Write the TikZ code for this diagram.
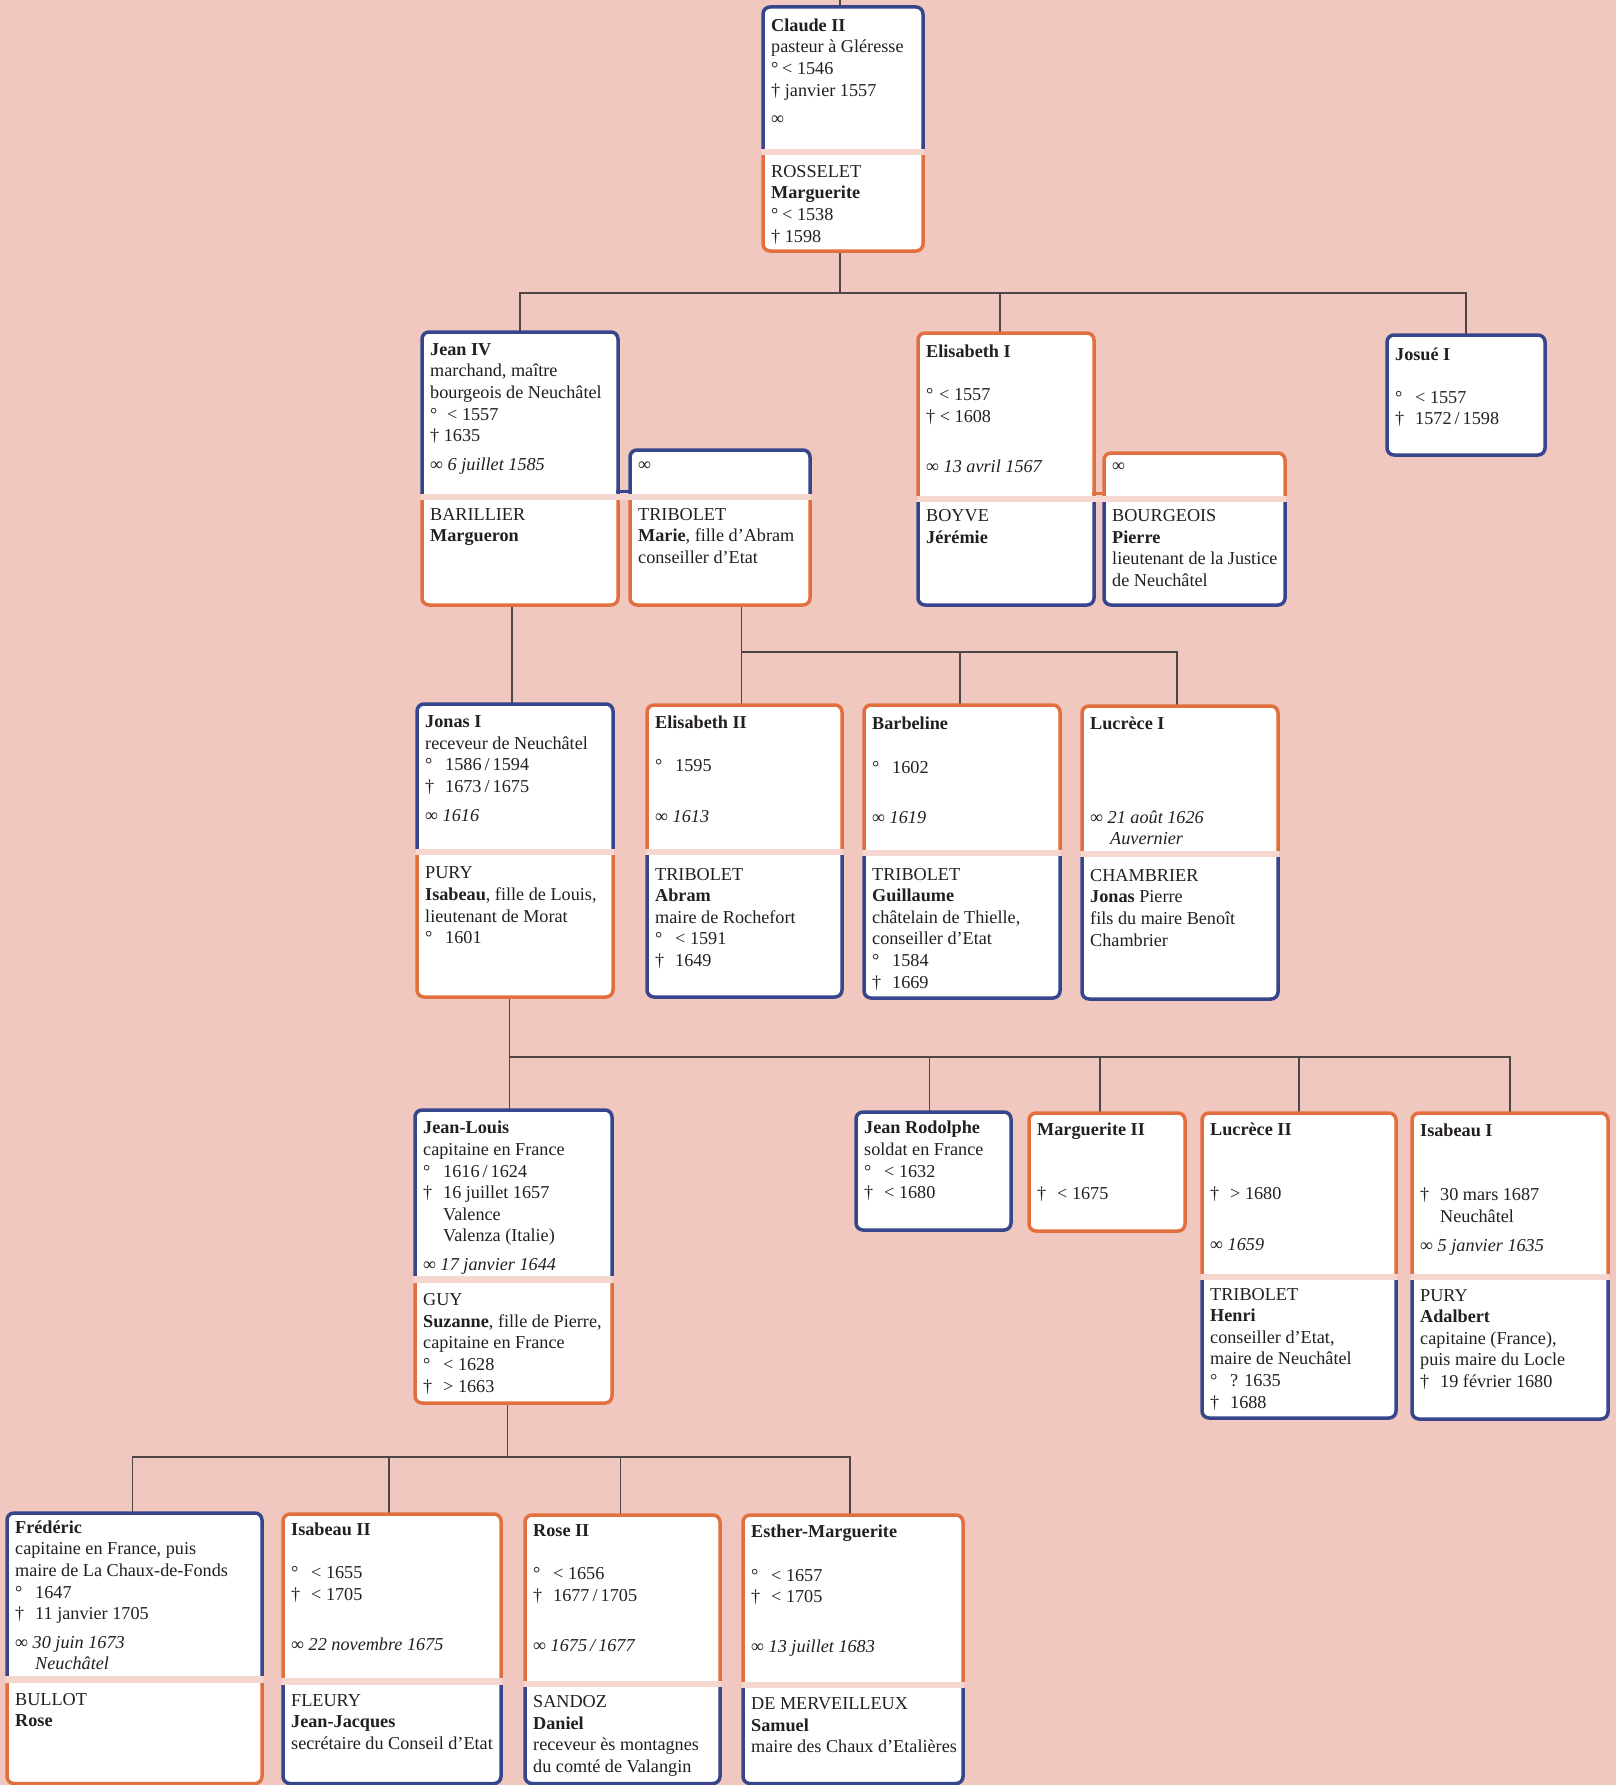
\documentclass[tikz,border=0pt]{standalone}
\usepackage{fontspec}
\setmainfont{Liberation Serif}

\definecolor{bg}{RGB}{240,200,191}
\definecolor{seamc}{RGB}{245,215,207}
\definecolor{mblue}{RGB}{55,70,140}
\definecolor{forange}{RGB}{226,112,62}
\definecolor{wirec}{RGB}{78,70,70}
\definecolor{ink}{RGB}{35,30,32}

\tikzset{
  frame/.style={line width=3.5pt, rounded corners=7pt, fill=white},
  wire/.style={draw=wirec, line width=1.5pt},
  txt/.style={anchor=north west, inner sep=0pt, align=left, text=ink,
              font=\fontsize{18.2}{21.6}\selectfont},
  slotbox/.style={anchor=north west, inner sep=0pt, outer sep=0pt},
}

% half boxes: the husband/wife halves are open towards each other
\newcommand\upperhalf[5]{% left, right, top, split, colour
  \begin{scope}
    \clip (#1-6,#3-6) rectangle (#2+6,#4);
    \draw[frame, draw=#5] (#1,#3) rectangle (#2,#4+24);
  \end{scope}}
\newcommand\lowerhalf[5]{% left, right, top, bottom, colour
  \begin{scope}
    \clip (#1-6,#3) rectangle (#2+6,#4+6);
    \draw[frame, draw=#5] (#1,#3-24) rectangle (#2,#4);
  \end{scope}}
\newcommand\fullbox[5]{\draw[frame, draw=#5] (#1,#3) rectangle (#2,#4);}
\newcommand\seam[4]{\fill[seamc] (#1-1,#3) rectangle (#2+1,#4);}% left, right, split, lower top
\newcommand\personslot[5]{% name, left, right, top, bottom
  \node[slotbox, minimum width={(#3)-(#2)}, minimum height={(#5)-(#4)}] (#1) at (#2,#4) {};}
\newcommand\firststrut{\rule{0pt}{14pt}}
\newcommand\boxtext[4]{% name, left, first baseline, lines
  \node[txt] (#1) at (#2+8,#3-14) {\firststrut #4};}
\newcommand\tb[1]{\makebox[20pt][l]{#1}}

\begin{document}
\begin{tikzpicture}[x=1pt, y=-1pt]
\useasboundingbox (0,0) rectangle (1616,1785);
\fill[bg] (0,0) rectangle (1616,1785);

% ---------- person slots ----------
\personslot{claude}{763}{923}{7}{251}
\personslot{jeaniv}{422}{618}{332}{605}
\personslot{marie}{630}{810}{450}{605}
\personslot{elisabethi}{918}{1094}{333}{605}
\personslot{pierre}{1104}{1285}{453}{605}
\personslot{josue}{1387}{1545}{335}{455}
\personslot{jonas}{417}{613}{704}{997}
\personslot{elisabethii}{647}{842}{705}{997}
\personslot{barbeline}{864}{1060}{705}{998}
\personslot{lucrecei}{1082}{1278}{706}{999}
\personslot{jeanlouis}{415}{612}{1110}{1403}
\personslot{jeanrodolphe}{856}{1011}{1112}{1230}
\personslot{margueriteii}{1029}{1185}{1113}{1231}
\personslot{lucreceii}{1202}{1396}{1113}{1418}
\personslot{isabeaui}{1412}{1608}{1113}{1419}
\personslot{frederic}{7}{262}{1513}{1783.5}
\personslot{isabeauii}{283}{501}{1514}{1783.5}
\personslot{roseii}{525}{720}{1515}{1783.5}
\personslot{esther}{743}{963}{1515}{1783.5}

% ---------- connectors ----------
\coordinate (lineage) at (840,0);
\coordinate (bus1) at (0,293);
\coordinate (bus3) at (0,652);
\coordinate (bus4) at (0,1057);
\coordinate (bus5) at (0,1457);

\draw[wire] (lineage) -- (lineage |- claude.north);
\draw[wire] ([xshift=-3pt]claude.south) -- ([xshift=-3pt]claude.south |- bus1);
\draw[wire] (jeaniv.north) -- (jeaniv.north |- bus1) -| (josue.north);
\draw[wire] ([xshift=-6pt]elisabethi.north) -- ([xshift=-6pt]elisabethi.north |- bus1);

\draw[wire] ([xshift=-3pt]jonas.north |- jeaniv.south) -- ([xshift=-3pt]jonas.north);
\draw[wire] ([xshift=-3pt]elisabethii.north |- marie.south) -- ([xshift=-3pt]elisabethii.north);
\draw[wire] ([xshift=-3pt]elisabethii.north |- bus3) -| ([xshift=-3pt]lucrecei.north);
\draw[wire] ([xshift=-2pt]barbeline.north) -- ([xshift=-2pt]barbeline.north |- bus3);

\draw[wire] ([xshift=-4pt]jeanlouis.north |- jonas.south) -- ([xshift=-4pt]jeanlouis.north);
\draw[wire] ([xshift=-4pt]jeanlouis.north |- bus4) -| (isabeaui.north);
\draw[wire] ([xshift=-4pt]jeanrodolphe.north) -- ([xshift=-4pt]jeanrodolphe.north |- bus4);
\draw[wire] ([xshift=-7pt]margueriteii.north) -- ([xshift=-7pt]margueriteii.north |- bus4);
\draw[wire] (lucreceii.north) -- (lucreceii.north |- bus4);

\draw[wire] ([xshift=-6pt]jeanlouis.south) -- ([xshift=-6pt]jeanlouis.south |- bus5);
\draw[wire] ([xshift=-2pt]frederic.north) -- ([xshift=-2pt]frederic.north |- bus5) -| ([xshift=-3pt]esther.north);
\draw[wire] ([xshift=-3pt]isabeauii.north) -- ([xshift=-3pt]isabeauii.north |- bus5);
\draw[wire] ([xshift=-2pt]roseii.north) -- ([xshift=-2pt]roseii.north |- bus5);

% ---------- boxes ----------
% Claude II
\seam{763}{923}{148}{155}
\upperhalf{763}{923}{7}{148}{mblue}
\lowerhalf{763}{923}{155}{251}{forange}

% Jean IV with his two wives
\seam{422}{810}{493}{500}
\upperhalf{422}{618}{332}{493}{mblue}
\upperhalf{630}{810}{450}{493}{mblue}
\draw[mblue, line width=3.5pt] (616,491.25) -- (632,491.25);
\lowerhalf{422}{618}{500}{605}{forange}
\lowerhalf{630}{810}{500}{605}{forange}

% Elisabeth I with her two husbands
\seam{918}{1285}{495}{502}
\upperhalf{918}{1094}{333}{495}{forange}
\upperhalf{1104}{1285}{453}{495}{forange}
\draw[forange, line width=3.5pt] (1092,493.25) -- (1106,493.25);
\lowerhalf{918}{1094}{502}{605}{mblue}
\lowerhalf{1104}{1285}{502}{605}{mblue}

% Josué I
\fullbox{1387}{1545}{335}{455}{mblue}

% third generation
\seam{417}{613}{848}{855}
\upperhalf{417}{613}{704}{848}{mblue}
\lowerhalf{417}{613}{855}{997}{forange}
\seam{647}{842}{848}{855}
\upperhalf{647}{842}{705}{848}{forange}
\lowerhalf{647}{842}{855}{997}{mblue}
\seam{864}{1060}{849}{856}
\upperhalf{864}{1060}{705}{849}{forange}
\lowerhalf{864}{1060}{856}{998}{mblue}
\seam{1082}{1278}{850}{857}
\upperhalf{1082}{1278}{706}{850}{forange}
\lowerhalf{1082}{1278}{857}{999}{mblue}

% fourth generation
\seam{415}{612}{1275}{1283}
\upperhalf{415}{612}{1110}{1275}{mblue}
\lowerhalf{415}{612}{1283}{1403}{forange}
\fullbox{856}{1011}{1112}{1230}{mblue}
\fullbox{1029}{1185}{1113}{1231}{forange}
\seam{1202}{1396}{1273}{1280}
\upperhalf{1202}{1396}{1113}{1273}{forange}
\lowerhalf{1202}{1396}{1280}{1418}{mblue}
\seam{1412}{1608}{1273}{1280}
\upperhalf{1412}{1608}{1113}{1273}{forange}
\lowerhalf{1412}{1608}{1280}{1419}{mblue}

% fifth generation
\seam{7}{262}{1675}{1683}
\upperhalf{7}{262}{1513}{1675}{mblue}
\lowerhalf{7}{262}{1683}{1783.5}{forange}
\seam{283}{501}{1677}{1685}
\upperhalf{283}{501}{1514}{1677}{forange}
\lowerhalf{283}{501}{1685}{1783.5}{mblue}
\seam{525}{720}{1680}{1687}
\upperhalf{525}{720}{1515}{1680}{forange}
\lowerhalf{525}{720}{1687}{1783.5}{mblue}
\seam{743}{963}{1681}{1688}
\upperhalf{743}{963}{1515}{1681}{forange}
\lowerhalf{743}{963}{1688}{1783.5}{mblue}

% ---------- texts ----------
\boxtext{claude-t}{763}{31}{\textbf{Claude II}\\ pasteur à Gléresse\\ \makebox[11pt][l]{°}< 1546\\ † janvier 1557\\[7pt] ∞}
\boxtext{rosselet-t}{763}{177}{ROSSELET\\ \textbf{Marguerite}\\ \makebox[11pt][l]{°}< 1538\\ † 1598}

\boxtext{jeaniv-t}{422}{355}{\textbf{Jean IV}\\ marchand, maître\\ bourgeois de Neuchâtel\\ \makebox[17pt][l]{°}< 1557\\ † 1635\\[7pt] ∞ \textit{6 juillet 1585}}
\boxtext{marie-m}{630}{470}{∞}
\boxtext{barillier-t}{422}{520}{BARILLIER\\ \textbf{Margueron}}
\boxtext{marie-t}{630}{520}{TRIBOLET\\ \textbf{Marie}, fille d’Abram\\ conseiller d’Etat}

\boxtext{elisabethi-t}{918}{357.5}{\textbf{Elisabeth I}\\[21.6pt] \makebox[13pt][l]{°}< 1557\\ † < 1608\\[28.5pt] ∞ \textit{13 avril 1567}}
\boxtext{pierre-m}{1104}{471.3}{∞}
\boxtext{boyve-t}{918}{521.4}{BOYVE\\ \textbf{Jérémie}}
\boxtext{pierre-t}{1104}{521.4}{BOURGEOIS\\ \textbf{Pierre}\\ lieutenant de la Justice\\ de Neuchâtel}

\boxtext{josue-t}{1387}{359.8}{\textbf{Josué I}\\[21.6pt] \tb{°}< 1557\\ \tb{†}1572\,/\,1598}

\boxtext{jonas-t}{417}{727.4}{\textbf{Jonas I}\\ receveur de Neuchâtel\\ \tb{°}1586\,/\,1594\\ \tb{†}1673\,/\,1675\\[7pt] ∞ \textit{1616}}
\boxtext{pury-t}{417}{878.7}{PURY\\ \textbf{Isabeau}, fille de Louis,\\ lieutenant de Morat\\ \tb{°}1601}
\boxtext{elisabethii-t}{647}{728.5}{\textbf{Elisabeth II}\\[21.6pt] \tb{°}1595\\[28.5pt] ∞ \textit{1613}}
\boxtext{abram-t}{647}{879.8}{TRIBOLET\\ \textbf{Abram}\\ maire de Rochefort\\ \tb{°}< 1591\\ \tb{†}1649}
\boxtext{barbeline-t}{864}{729.6}{\textbf{Barbeline}\\[21.6pt] \tb{°}1602\\[28.5pt] ∞ \textit{1619}}
\boxtext{guillaume-t}{864}{879.8}{TRIBOLET\\ \textbf{Guillaume}\\ châtelain de Thielle,\\ conseiller d’Etat\\ \tb{°}1584\\ \tb{†}1669}
\boxtext{lucrecei-t}{1082}{729.6}{\textbf{Lucrèce I}\\[71.8pt] ∞ \textit{21 août 1626}\\ \hspace*{20pt}\textit{Auvernier}}
\boxtext{chambrier-t}{1082}{881}{CHAMBRIER\\ \textbf{Jonas} Pierre\\ fils du maire Benoît\\ Chambrier}

\boxtext{jeanlouis-t}{415}{1133.6}{\textbf{Jean-Louis}\\ capitaine en France\\ \tb{°}1616\,/\,1624\\ \tb{†}16 juillet 1657\\ \hspace*{20pt}Valence\\ \hspace*{20pt}Valenza (Italie)\\[7pt] ∞ \textit{17 janvier 1644}}
\boxtext{guy-t}{415}{1305.5}{GUY\\ \textbf{Suzanne}, fille de Pierre,\\ capitaine en France\\ \tb{°}< 1628\\ \tb{†}> 1663}
\boxtext{jeanrodolphe-t}{856}{1133.6}{\textbf{Jean Rodolphe}\\ soldat en France\\ \tb{°}< 1632\\ \tb{†}< 1680}
\boxtext{margueriteii-t}{1029}{1134.8}{\textbf{Marguerite II}\\[43.2pt] \tb{†}< 1675}
\boxtext{lucreceii-t}{1202}{1134.8}{\textbf{Lucrèce II}\\[43.2pt] \tb{†}> 1680\\[29pt] ∞ \textit{1659}}
\boxtext{henri-t}{1202}{1299.8}{TRIBOLET\\ \textbf{Henri}\\ conseiller d’Etat,\\ maire de Neuchâtel\\ \tb{°}? 1635\\ \tb{†}1688}
\boxtext{isabeaui-t}{1412}{1135.9}{\textbf{Isabeau I}\\[43.2pt] \tb{†}30 mars 1687\\ \hspace*{20pt}Neuchâtel\\[7pt] ∞ \textit{5 janvier 1635}}
\boxtext{adalbert-t}{1412}{1300.9}{PURY\\ \textbf{Adalbert}\\ capitaine (France),\\ puis maire du Locle\\ \tb{†}19 février 1680}

\boxtext{frederic-t}{7}{1533}{\textbf{Frédéric}\\ capitaine en France, puis\\ maire de La Chaux-de-Fonds\\ \tb{°}1647\\ \tb{†}11 janvier 1705\\[7pt] ∞ \textit{30 juin 1673}\\ \hspace*{20pt}\textit{Neuchâtel}}
\boxtext{bullot-t}{7}{1705}{BULLOT\\ \textbf{Rose}}
\boxtext{isabeauii-t}{283}{1535.3}{\textbf{Isabeau II}\\[21.6pt] \tb{°}< 1655\\ \tb{†}< 1705\\[28.5pt] ∞ \textit{22 novembre 1675}}
\boxtext{fleury-t}{283}{1706}{FLEURY\\ \textbf{Jean-Jacques}\\ secrétaire du Conseil d’Etat}
\boxtext{roseii-t}{525}{1536.5}{\textbf{Rose II}\\[21.6pt] \tb{°}< 1656\\ \tb{†}1677\,/\,1705\\[28.5pt] ∞ \textit{1675\,/\,1677}}
\boxtext{sandoz-t}{525}{1707.2}{SANDOZ\\ \textbf{Daniel}\\ receveur ès montagnes\\ du comté de Valangin}
\boxtext{esther-t}{743}{1537.6}{\textbf{Esther-Marguerite}\\[21.6pt] \tb{°}< 1657\\ \tb{†}< 1705\\[28.5pt] ∞ \textit{13 juillet 1683}}
\boxtext{merveilleux-t}{743}{1709.4}{DE MERVEILLEUX\\ \textbf{Samuel}\\ maire des Chaux d’Etalières}
\end{tikzpicture}
\end{document}
